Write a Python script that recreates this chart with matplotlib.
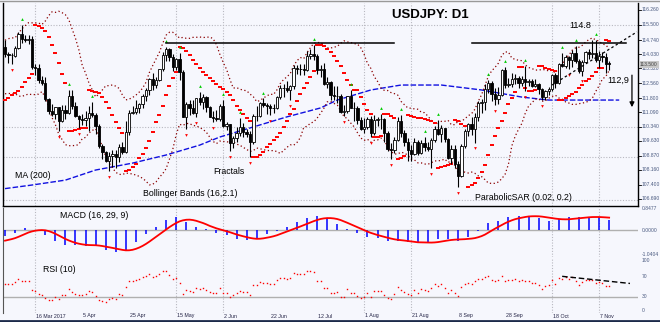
import numpy as np
import pandas as pd
import matplotlib
matplotlib.use("Agg")
import matplotlib.pyplot as plt

# USDJPY daily bars, 3 Mar 2017 - 10 Nov 2017
opens = [114.40, 113.99, 113.98, 113.95, 114.33, 115.02, 114.80, 114.73, 114.77, 113.38,
         113.33, 112.70, 112.54, 111.73, 111.14, 110.99, 111.33, 110.64, 111.19, 111.05,
         111.89, 111.39, 110.88, 110.72, 110.71, 110.80, 111.07, 110.94, 110.37, 109.37,
         109.05, 108.64, 108.87, 108.98, 108.84, 109.33, 109.06, 110.08, 111.07, 111.08,
         111.28, 111.50, 111.88, 112.19, 112.75, 112.44, 112.70, 113.25, 113.98, 114.27,
         113.89, 113.35, 113.77, 113.10, 110.86, 111.48, 111.29, 111.06, 111.79, 111.59,
         111.84, 111.33, 110.86, 110.81, 110.76, 111.38, 110.41, 110.47, 109.53, 109.78,
         110.04, 110.33, 110.07, 110.00, 109.59, 110.91, 110.87, 111.55, 111.44, 111.39,
         111.32, 111.28, 111.86, 112.32, 112.30, 112.20, 112.39, 113.30, 113.25, 113.25,
         113.22, 113.91, 114.02, 113.94, 113.24, 113.27, 112.52, 112.61, 111.94, 111.89,
         111.93, 111.12, 111.13, 111.90, 111.32, 111.28, 110.67, 110.26, 110.35, 110.72,
         110.05, 110.70, 110.72, 110.75, 110.05, 109.21, 109.16, 109.69, 110.62, 110.02,
         109.59, 109.19, 108.98, 109.60, 109.01, 109.55, 109.35, 109.22, 109.68, 110.25,
         109.99, 110.27, 109.72, 108.75, 109.24, 108.46, 107.84, 109.39, 110.13, 110.47,
         110.22, 110.85, 111.54, 111.58, 112.25, 112.55, 111.99, 111.73, 111.96, 113.20,
         112.48, 112.51, 112.75, 112.80, 112.55, 112.75, 112.62, 112.67, 112.43, 112.49,
         112.27, 111.83, 112.17, 112.24, 112.95, 112.58, 113.52, 113.44, 113.90, 113.72,
         114.06, 113.67, 113.17, 113.65, 114.11, 114.04, 114.06, 113.73, 113.95, 113.86,
         113.56]
highs = [114.75, 114.14, 114.09, 114.45, 115.12, 115.51, 115.00, 115.00, 114.92, 113.54,
         113.54, 112.94, 112.86, 111.80, 111.48, 111.37, 111.34, 111.43, 111.45, 112.20,
         112.19, 111.59, 110.94, 111.00, 111.14, 111.39, 111.59, 111.02, 110.48, 109.48,
         109.14, 109.08, 109.17, 109.19, 109.48, 109.59, 110.64, 111.19, 111.42, 111.72,
         111.56, 112.03, 112.31, 112.81, 113.05, 112.87, 113.27, 114.14, 114.37, 114.35,
         114.05, 113.81, 114.06, 113.23, 111.62, 111.69, 111.69, 111.78, 112.13, 112.01,
         111.93, 111.40, 111.16, 111.19, 111.48, 111.72, 110.61, 110.49, 109.86, 110.36,
         110.81, 110.56, 110.24, 110.11, 111.00, 111.41, 111.60, 111.78, 111.54, 111.48,
         111.52, 111.89, 112.47, 112.53, 112.68, 112.45, 113.47, 113.49, 113.52, 113.50,
         114.17, 114.29, 114.49, 114.05, 113.46, 113.58, 112.89, 112.68, 112.42, 112.41,
         112.01, 111.47, 111.91, 112.19, 111.58, 111.39, 110.85, 110.80, 110.82, 110.87,
         110.96, 110.86, 110.99, 110.80, 110.14, 109.52, 109.85, 110.85, 110.95, 110.19,
         109.79, 109.44, 109.77, 109.67, 109.67, 109.84, 109.58, 109.77, 110.41, 110.67,
         110.45, 110.30, 109.76, 109.45, 109.43, 108.60, 109.46, 110.25, 110.54, 110.86,
         111.04, 111.66, 111.77, 112.53, 112.72, 112.68, 112.32, 112.34, 113.26, 113.39,
         112.81, 113.07, 113.03, 112.93, 112.93, 113.44, 112.76, 112.77, 112.76, 112.56,
         112.32, 112.22, 112.38, 113.03, 113.09, 113.57, 114.10, 114.00, 113.94, 114.24,
         114.45, 113.79, 113.74, 114.20, 114.28, 114.73, 114.74, 114.16, 114.11, 114.06,
         113.66]
lows = [113.87, 113.58, 113.53, 113.86, 114.26, 114.59, 114.62, 114.55, 113.27, 112.99,
        112.57, 112.47, 111.65, 110.98, 110.91, 110.72, 110.11, 110.60, 110.75, 110.98,
        111.23, 110.85, 110.27, 110.42, 110.39, 110.13, 110.83, 109.97, 109.29, 108.73,
        108.56, 108.13, 108.32, 108.28, 108.58, 108.95, 109.04, 109.95, 110.97, 110.98,
        111.02, 111.28, 111.63, 111.98, 112.21, 112.30, 112.68, 113.18, 113.68, 113.66,
        113.16, 113.23, 112.72, 110.83, 110.23, 110.93, 110.97, 110.85, 111.43, 111.23,
        111.08, 110.86, 110.58, 110.64, 110.64, 110.33, 110.18, 109.11, 109.26, 109.56,
        109.90, 109.81, 109.83, 108.82, 109.48, 110.64, 110.85, 111.33, 111.00, 110.94,
        111.07, 111.26, 111.73, 111.84, 112.10, 111.72, 112.25, 113.03, 112.95, 112.96,
        113.17, 113.76, 113.73, 113.04, 112.86, 112.47, 112.33, 111.69, 111.71, 111.53,
        111.02, 110.88, 111.03, 111.30, 110.62, 110.49, 110.16, 110.05, 110.23, 109.85,
        109.91, 110.41, 110.23, 109.56, 109.14, 108.72, 109.04, 109.61, 109.85, 109.40,
        108.60, 108.60, 108.90, 108.91, 108.96, 109.11, 109.11, 108.27, 109.56, 109.91,
        109.59, 109.56, 108.72, 108.48, 108.27, 107.32, 107.80, 109.28, 109.86, 109.91,
        109.55, 110.64, 111.07, 111.21, 112.05, 111.66, 111.47, 111.50, 111.93, 112.33,
        112.35, 112.38, 112.51, 112.32, 112.40, 112.17, 112.39, 112.34, 112.36, 112.00,
        111.68, 111.71, 111.97, 112.18, 112.30, 112.53, 113.36, 113.33, 113.25, 113.37,
        113.59, 113.09, 112.94, 113.56, 113.80, 113.85, 113.63, 113.30, 113.63, 113.08,
        113.23]
closes = [114.02, 113.98, 113.96, 114.34, 115.02, 114.80, 114.73, 114.77, 113.38, 113.33,
          112.70, 112.54, 111.73, 111.14, 110.99, 111.33, 110.64, 111.19, 111.05, 111.89,
          111.39, 110.88, 110.72, 110.71, 110.80, 111.07, 110.94, 110.37, 109.37, 109.05,
          108.64, 108.87, 108.98, 108.84, 109.33, 109.06, 110.08, 111.07, 111.08, 111.28,
          111.50, 111.88, 112.19, 112.75, 112.44, 112.70, 113.25, 113.98, 114.27, 113.89,
          113.35, 113.77, 113.10, 110.86, 111.48, 111.29, 111.06, 111.79, 111.59, 111.84,
          111.33, 110.86, 110.81, 110.76, 111.38, 110.41, 110.47, 109.53, 109.78, 110.04,
          110.33, 110.07, 110.00, 109.59, 110.91, 110.87, 111.55, 111.44, 111.39, 111.32,
          111.28, 111.86, 112.32, 112.30, 112.20, 112.39, 113.30, 113.25, 113.25, 113.22,
          113.91, 114.02, 113.94, 113.24, 113.27, 112.52, 112.61, 111.94, 111.89, 111.93,
          111.12, 111.13, 111.90, 111.32, 111.28, 110.67, 110.26, 110.35, 110.72, 110.05,
          110.70, 110.72, 110.75, 110.05, 109.21, 109.16, 109.69, 110.62, 110.02, 109.59,
          109.19, 108.98, 109.60, 109.01, 109.55, 109.35, 109.22, 109.68, 110.25, 109.99,
          110.27, 109.72, 108.75, 109.24, 108.46, 107.84, 109.39, 110.13, 110.47, 110.22,
          110.85, 111.54, 111.58, 112.25, 112.55, 111.99, 111.73, 111.96, 113.20, 112.48,
          112.51, 112.75, 112.80, 112.55, 112.75, 112.62, 112.67, 112.43, 112.49, 112.27,
          111.83, 112.17, 112.24, 112.95, 112.58, 113.52, 113.44, 113.90, 113.72, 114.06,
          113.67, 113.17, 113.65, 114.11, 114.04, 114.06, 113.73, 113.95, 113.86, 113.54,
          113.50]

# closes from Jan-Feb 2017, only used to warm up the indicators
prior_closes = [117.75, 117.24, 115.37, 116.96, 115.88, 115.78, 115.36, 114.79, 114.50, 114.18,
                112.70, 113.43, 114.98, 114.62, 112.82, 113.77, 113.29, 115.18, 115.10, 113.76,
                112.77, 113.23, 112.82, 112.57, 111.72, 112.36, 111.84, 113.24, 113.23, 113.70,
                114.32, 114.18, 113.20, 112.88, 113.13, 113.64, 113.31, 112.60, 112.12, 112.70,
                112.79, 113.74, 114.40]

# 200-day moving average, read every few bars
ma200_bar = [0, 8, 18, 27, 38, 48, 58, 64, 74, 84, 94, 99, 109, 118, 130, 142, 154, 162, 176, 183]
ma200_val = [107.22, 107.40, 107.65, 108.16, 108.51, 108.92, 109.42, 109.83, 110.34, 110.85,
             111.30, 111.70, 112.21, 112.46, 112.46, 112.21, 111.85, 111.70, 111.70, 111.70]

date_bars = [9, 23, 37, 51, 65, 79, 93, 107, 121, 135, 149, 163, 177]
date_labels = ["16 Mar 2017", "5 Apr", "25 Apr", "15 May", "2 Jun", "22 Jun", "12 Jul",
               "1 Aug", "21 Aug", "8 Sep", "28 Sep", "18 Oct", "7 Nov"]
vgrid_bars = [9, 51, 65, 107, 121, 163, 177]
hgrid_prices = [115.50, 110.34, 108.82, 106.64]
price_ticks = [116.26, 115.50, 114.74, 114.03, 113.32, 112.56, 111.80, 111.09, 110.34,
               109.63, 108.87, 108.16, 107.40, 106.69]

resist_level = 114.60
resist_spans = [(48, 116), (139, 185)]
trend_bars = [163, 188.3]
trend_prices = [112.46, 115.15]
rsi_trend_bars = [166, 186.2]
rsi_trend_vals = [70, 56.4]

BG = "#f6f7fd"
FONT = "Liberation Sans"

o = np.array(opens); h = np.array(highs); l = np.array(lows); c = np.array(closes)
n = len(c)
x = np.arange(n)

# indicators on the full close history
full = pd.Series(prior_closes + closes)
k = len(prior_closes)

mid = full.rolling(16).mean()
sd = full.rolling(16).std(ddof=0)
bb_up = (mid + 2.1 * sd).values[k:]
bb_dn = (mid - 2.1 * sd).values[k:]

macd_full = full.ewm(span=16, adjust=False).mean() - full.ewm(span=29, adjust=False).mean()
signal_full = macd_full.rolling(9).mean()
macd = macd_full.values[k:]
signal = signal_full.values[k:]

diff = full.diff()
gain = diff.clip(lower=0).ewm(alpha=1 / 10, adjust=False).mean()
loss = (-diff.clip(upper=0)).ewm(alpha=1 / 10, adjust=False).mean()
rsi = (100 - 100 / (1 + gain / loss)).values[k:]


def parabolic_sar(high, low, step=0.02, max_step=0.2):
    out = np.zeros(len(high))
    up = True
    s, ep, af = 111.70, high[0], 0.04
    for i in range(len(high)):
        if i > 0:
            s = s + af * (ep - s)
            if up:
                s = min(s, low[i - 1], low[max(i - 2, 0)])
                if low[i] < s:
                    up, s, ep, af = False, ep, low[i], step
                elif high[i] > ep:
                    ep, af = high[i], min(af + step, max_step)
            else:
                s = max(s, high[i - 1], high[max(i - 2, 0)])
                if high[i] > s:
                    up, s, ep, af = True, ep, high[i], step
                elif low[i] < ep:
                    ep, af = low[i], min(af + step, max_step)
        out[i] = s
    return out


sar = parabolic_sar(h, l)

frac_up = [i for i in range(2, n - 2) if h[i] > max(h[i - 2], h[i - 1], h[i + 1], h[i + 2])]
frac_dn = [i for i in range(2, n - 2) if l[i] < min(l[i - 2], l[i - 1], l[i + 1], l[i + 2])]

# layout
W, H = 660, 322
fig = plt.figure(figsize=(W / 100, H / 100), dpi=100, facecolor=BG)


def box(top, bottom, left=3, right=638):
    return [left / W, 1 - bottom / H, (right - left) / W, (bottom - top) / H]


def put(xp, yp, s, **kw):
    fig.text(xp / W, 1 - yp / H, s, family=FONT, **kw)


ax = fig.add_axes(box(3, 206))
ax_m = fig.add_axes(box(208, 257), sharex=ax)
ax_r = fig.add_axes(box(258, 313), sharex=ax)

for a in (ax, ax_m, ax_r):
    a.set_facecolor(BG)
    a.tick_params(left=False, bottom=False, labelleft=False, labelbottom=False)
    for sp in a.spines.values():
        sp.set_visible(False)
    a.spines["left"].set_visible(True)
    a.spines["left"].set_color("#555555")
    for b in vgrid_bars:
        a.axvline(b, color="#b8b8c0", lw=0.8, ls=(0, (1, 1.5)), zorder=0)

for s in ("right", "bottom", "left"):
    ax.spines[s].set_visible(True)
    ax.spines[s].set_color("black")
    ax.spines[s].set_linewidth(1.0)

ax.set_xlim(-0.6, 188.6)
ax.set_ylim(106.34, 116.61)

for p in hgrid_prices:
    ax.axhline(p, color="#b8b8c0", lw=0.8, ls=(0, (1, 1.5)), zorder=0)

# moving average, bands and SAR
ax.plot(ma200_bar, ma200_val, color="#1010e0", lw=1.0, ls=(0, (4, 1.5)), zorder=2)
ax.plot(x, bb_up, color="#8b0000", lw=0.9, ls=(0, (1, 2)), zorder=2)
ax.plot(x, bb_dn, color="#8b0000", lw=0.9, ls=(0, (1, 2)), zorder=2)
ax.plot(x, sar, ls="none", marker="_", ms=3, mew=1.4, color="#ff0000", zorder=3)

# candles
ax.vlines(x, l, h, color="black", lw=0.8, zorder=4)
body_lo = np.minimum(o, c)
body_h = np.maximum(np.abs(c - o), 0.03)
face = np.where(c >= o, "white", "black")
ax.bar(x, body_h, bottom=body_lo, width=0.7, color=face, edgecolor="black",
       linewidth=0.6, zorder=5)

# fractals
ax.plot(frac_up, h[frac_up] + 0.3, ls="none", marker="^", ms=2, mew=0, color="#00cc00", zorder=6)
ax.plot(frac_dn, l[frac_dn] - 0.3, ls="none", marker="v", ms=2, mew=0, color="#ff0000", zorder=6)

# drawn levels, trend line and target arrow
for x0, x1 in resist_spans:
    ax.plot([x0, x1], [resist_level, resist_level], color="black", lw=1.1, zorder=7)
ax.plot(trend_bars, trend_prices, color="black", lw=0.9, ls=(0, (2, 2)), zorder=7)
ax.annotate("", xy=(186.8, 111.2), xytext=(186.8, 113.1),
            arrowprops=dict(arrowstyle="-|>", color="black", lw=0.9, mutation_scale=7), zorder=7)

put(392, 15, "USDJPY: D1", fontsize=9.5, fontweight="bold", va="center")
put(569, 25, "114.8", fontsize=6.5, va="center")
put(607, 80, "112,9", fontsize=6.5, va="center")
put(15, 175, "MA (200)", fontsize=6.3, va="center")
put(143, 193, "Bollinger Bands (16,2.1)", fontsize=6.3, va="center")
put(213, 172, "Fractals", fontsize=6.3, va="center")
put(475, 197, "ParabolicSAR (0.02, 0.2)", fontsize=6.3, va="center")
put(60, 216, "MACD (16, 29, 9)", fontsize=6.3, va="center")
put(43, 270, "RSI (10)", fontsize=6.3, va="center")

# price scale
for p in price_ticks:
    yp = 25 + (115.5 - p) * 19.75
    put(642, yp, f"{p:.3f}", fontsize=3.6, color="#4a5a80", va="center")
    fig.add_artist(plt.Line2D([638 / W, 641 / W], [1 - yp / H] * 2, color="black", lw=0.6))
yl = 25 + (115.5 - c[-1]) * 19.75
put(640, yl, f"{c[-1]:.3f}", fontsize=3.6, color="#444444", va="center",
    bbox=dict(boxstyle="square,pad=0.2", fc="#c8c8c8", ec="none"))

# MACD panel
ax_m.axhline(0, color="#b0b0b0", lw=1.0, zorder=1)
sel = x[::3]
ax_m.vlines(sel, 0, macd[sel], color="#0000ff", lw=1.1, zorder=2)
ax_m.plot(x, signal, color="#ff0000", lw=1.3, zorder=3)
lo = np.nanmin(macd) * 27 / 22
ax_m.set_ylim(lo, -lo * 22 / 27)
for v, yp in [(-lo * 22 / 27, 209), (0, 230), (lo, 255)]:
    put(642, yp, f"{v:.4f}", fontsize=3.6, color="#4a5a80", va="center")

# RSI panel
ax_r.axhline(30, color="#b0b0b0", lw=1.0, zorder=1)
ax_r.plot(x, rsi, ls="none", marker="s", ms=1.0, mew=0, color="#ff0000", zorder=2)
ax_r.plot(rsi_trend_bars, rsi_trend_vals, color="black", lw=1.0, ls=(0, (4, 2)), zorder=3)
ax_r.set_ylim(0, 105)
for v, yp in [(100, 261), (70, 276), (30, 297), (0, 310)]:
    put(642, yp, str(v), fontsize=3.6, color="#4a5a80", va="center")

# dates
for b, s in zip(date_bars, date_labels):
    xp = 5 + 3.357 * b
    put(xp + 1, 316, s, fontsize=3.8, color="#222244", va="center")

# frame
fig.add_artist(plt.Line2D([0, 1], [1.5 / H, 1.5 / H], color="#1c2a4a", lw=2))
fig.add_artist(plt.Line2D([0, 1], [1 - 0.5 / H, 1 - 0.5 / H], color="#999999", lw=1))

fig.savefig("out.png", dpi=100, facecolor=BG)
